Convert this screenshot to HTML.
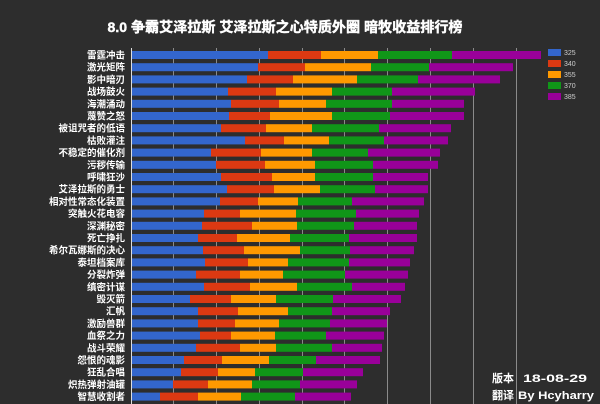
<!DOCTYPE html>
<html><head><meta charset="utf-8"><style>html,body{margin:0;padding:0;background:#2d2d2d;}svg{display:block}</style></head>
<body>
<svg width="600" height="404" xmlns="http://www.w3.org/2000/svg" font-family="Liberation Sans, Noto Sans CJK SC, sans-serif">
<rect width="600" height="404" fill="#2d2d2d"/>
<g stroke="#8a8a8a" stroke-width="1">
<line x1="173.5" y1="48" x2="173.5" y2="404"/><line x1="216.5" y1="48" x2="216.5" y2="404"/><line x1="259.5" y1="48" x2="259.5" y2="404"/><line x1="302.5" y1="48" x2="302.5" y2="404"/><line x1="344.5" y1="48" x2="344.5" y2="404"/><line x1="387.5" y1="48" x2="387.5" y2="404"/><line x1="430.5" y1="48" x2="430.5" y2="404"/><line x1="473.5" y1="48" x2="473.5" y2="404"/><line x1="516.5" y1="48" x2="516.5" y2="404"/>
</g>
<line x1="131.5" y1="48" x2="131.5" y2="404" stroke="#ddd" stroke-width="1"/>
<text x="285" y="32" fill="#fff" font-size="14" font-weight="bold" text-anchor="middle" textLength="355" lengthAdjust="spacingAndGlyphs" stroke="#fff" stroke-width="0.4">8.0 争霸艾泽拉斯  艾泽拉斯之心特质外圈  暗牧收益排行榜</text>
<g id="bars"></g>
<g id="labels" fill="#fff" font-size="9.5" font-weight="bold" text-anchor="end"></g>
<g font-size="7" fill="#ccc">
<rect x="548" y="49" width="13" height="7" fill="#3366cc"/><text x="564" y="55">325</text>
<rect x="548" y="60" width="13" height="7" fill="#dc3912"/><text x="564" y="66">340</text>
<rect x="548" y="71" width="13" height="7" fill="#ff9900"/><text x="564" y="77">355</text>
<rect x="548" y="82" width="13" height="7" fill="#109618"/><text x="564" y="88">370</text>
<rect x="548" y="93" width="13" height="7" fill="#990099"/><text x="564" y="99">385</text>
</g>
<g fill="#fff" font-size="11" font-weight="bold">
<text x="492" y="382">版本</text><text x="523" y="382" textLength="64" lengthAdjust="spacingAndGlyphs">18-08-29</text>
<text x="492" y="399">翻译</text><text x="518" y="399" textLength="76" lengthAdjust="spacingAndGlyphs">By Hcyharry</text>
</g>
<script>
var d=[["雷霆冲击",268,321,378,452,541],["激光矩阵",258,305,371,429,513],["影中暗刃",247,293,357,418,500],["战场鼓火",228,276,332,392,475],["海潮涌动",231,279,326,392,464],["蔑赞之怒",229,270,332,390,464],["被诅咒者的低语",221,266,312,379,451],["枯败灌注",245,284,329,384,448],["不稳定的催化剂",211,261,312,368,440],["污秽传输",216,265,315,373,438],["呼啸狂沙",221,272,315,373,428],["艾泽拉斯的勇士",227,274,320,375,428],["相对性常态化装置",220,258,298,352,424],["突触火花电容",204,240,296,356,419],["深渊秘密",202,252,297,354,417],["死亡挣扎",198,237,290,349,417],["希尔瓦娜斯的决心",203,244,300,350,414],["泰坦档案库",205,248,288,349,410],["分裂炸弹",196,240,283,345,408],["缜密计谋",204,250,297,352,405],["毁灭箭",190,231,276,333,401],["汇帆",198,238,288,332,390],["激励兽群",198,235,279,330,387],["血祭之力",200,231,275,326,384],["战斗荣耀",196,240,276,332,382],["怨恨的魂影",184,222,269,316,380],["狂乱合唱",181,218,255,303,363],["炽热弹射油罐",173,208,252,300,357],["智慧收割者",160,198,241,295,351]];
var c=["#3366cc","#dc3912","#ff9900","#109618","#990099"],ns="http://www.w3.org/2000/svg",b=document.getElementById("bars"),l=document.getElementById("labels");
d.forEach(function(r,i){var y=55+i*12.2,x=132;for(var k=0;k<5;k++){var e=document.createElementNS(ns,"rect");e.setAttribute("x",x);e.setAttribute("y",y-4);e.setAttribute("width",r[k+1]-x);e.setAttribute("height",8);e.setAttribute("fill",c[k]);b.appendChild(e);x=r[k+1];}
var t=document.createElementNS(ns,"text");t.setAttribute("x",125);t.setAttribute("y",y+3.5);t.textContent=r[0];l.appendChild(t);});
</script>
</svg>
</body></html>
